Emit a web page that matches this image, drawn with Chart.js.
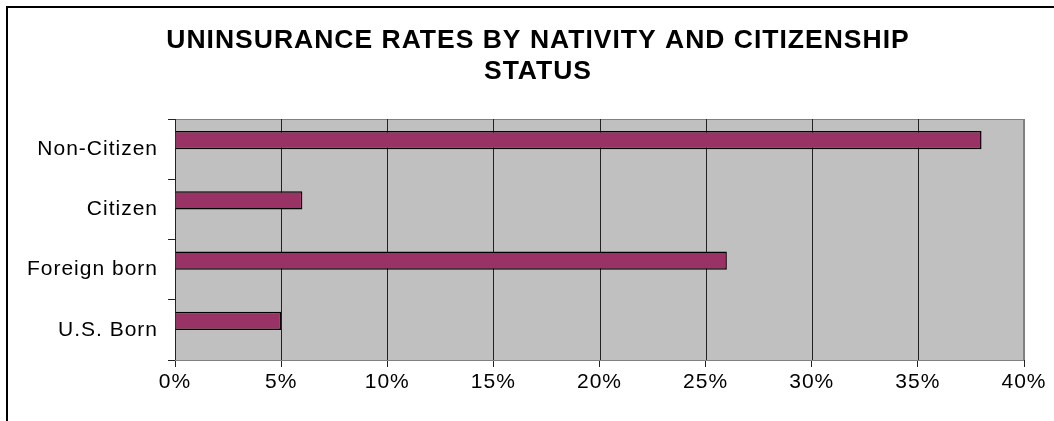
<!DOCTYPE html>
<html>
<head>
<meta charset="utf-8">
<script src="https://cdn.jsdelivr.net/npm/chart.js@4/dist/chart.umd.min.js"></script>
<style>
  html, body { margin: 0; padding: 0; background: #fff; overflow: hidden; }
  canvas { display: block; }
</style>
</head>
<body>
<canvas id="myChart" width="1054" height="421"></canvas>
<script>
const groups = ["Non-Citizen", "Citizen", "Foreign born", "U.S. Born"];
const uninsured = [38, 6, 26, 5];
const emptySeries = [null, null, null, null];
const xTicks = [0, 5, 10, 15, 20, 25, 30, 35, 40];

const FONT = "'Liberation Sans', Arial, sans-serif";

// outer frame (left + top edge only), gray plot fill, wide lettering
const plotBg = {
  id: "plotBg",
  beforeDraw(chart) {
    let ctx = chart.ctx;
    ctx.letterSpacing = "1px";
    ctx.save();
    ctx.strokeStyle = "#000";
    ctx.lineWidth = 2;
    ctx.beginPath();
    ctx.moveTo(7, chart.height);
    ctx.lineTo(7, 7);
    ctx.lineTo(chart.width, 7);
    ctx.stroke();
    ctx.restore();
  },
  beforeDatasetsDraw(chart) {
    let { ctx, chartArea: a } = chart;
    ctx.save();
    ctx.fillStyle = "#c0c0c0";
    ctx.fillRect(a.left, a.top, a.right - a.left, a.bottom - a.top);
    ctx.strokeStyle = "#808080";
    ctx.lineWidth = 1;
    ctx.strokeRect(a.left + 0.5, a.top + 0.5, a.right - a.left - 1, a.bottom - a.top);
    ctx.restore();
  }
};

// vertical gridlines drawn over the gray fill
const gridOnTop = {
  id: "gridOnTop",
  beforeDatasetsDraw(chart) {
    let x = chart.scales.x;
    let a = chart.chartArea;
    let ctx = chart.ctx;
    ctx.save();
    ctx.lineWidth = 1;
    x.ticks.forEach((t) => {
      let px = Math.round(x.getPixelForValue(t.value)) + 0.5;
      ctx.strokeStyle = t.value === 40 ? "#808080" : "#222";
      ctx.beginPath();
      ctx.moveTo(px, a.top);
      ctx.lineTo(px, a.bottom);
      ctx.stroke();
    });
    ctx.restore();
  }
};

var ctx = document.getElementById("myChart");
var myChart = new Chart(ctx, {
  type: "bar",
  data: {
    labels: groups,
    datasets: [
      {
        label: "Uninsured",
        data: uninsured,
        backgroundColor: "#993366",
        borderColor: "#000",
        borderWidth: 1.5,
        categoryPercentage: 0.6,
        barPercentage: 1
      },
      {
        label: "",
        data: emptySeries,
        backgroundColor: "#993366",
        categoryPercentage: 0.6,
        barPercentage: 1
      }
    ]
  },
  options: {
    indexAxis: "y",
    responsive: false,
    animation: false,
    layout: { padding: { left: 22, right: 0, top: 0, bottom: 0 } },
    plugins: {
      legend: { display: false },
      tooltip: { enabled: false },
      title: {
        display: true,
        text: ["UNINSURANCE RATES BY NATIVITY AND CITIZENSHIP", "STATUS"],
        color: "#000",
        font: { family: FONT, size: 26.5, weight: "bold", lineHeight: 1.17 },
        padding: { top: 25, bottom: 32 }
      }
    },
    scales: {
      x: {
        min: 0,
        max: 40,
        afterBuildTicks: (scale) => {
          scale.ticks = xTicks.map((v) => ({ value: v }));
        },
        afterFit: (scale) => {
          scale.height = 61;
          scale.paddingRight = 30;
        },
        grid: {
          drawOnChartArea: false,
          drawTicks: true,
          tickLength: 7,
          color: "#222"
        },
        border: { color: "#222", width: 1 },
        ticks: {
          color: "#000",
          font: { family: FONT, size: 21 },
          padding: 3,
          callback: (v) => v + "%"
        }
      },
      y: {
        afterFit: (scale) => {
          scale.width = 153;
        },
        grid: {
          offset: true,
          drawOnChartArea: false,
          drawTicks: true,
          tickLength: 7,
          color: "#222"
        },
        border: { color: "#222", width: 1 },
        ticks: {
          color: "#000",
          font: { family: FONT, size: 21 },
          padding: 10
        }
      }
    }
  },
  plugins: [plotBg, gridOnTop]
});
</script>
</body>
</html>
